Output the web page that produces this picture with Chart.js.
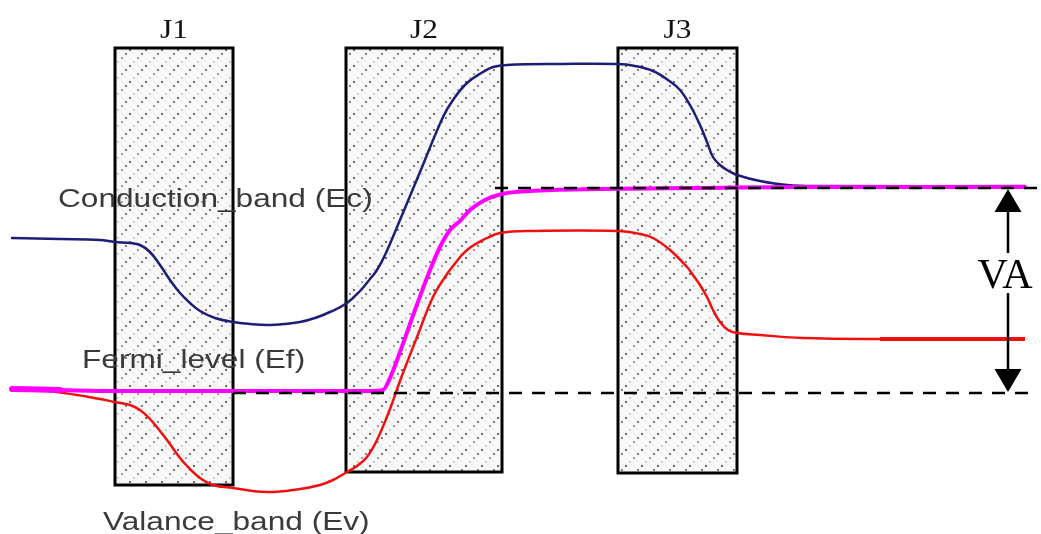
<!DOCTYPE html>
<html>
<head>
<meta charset="utf-8">
<script src="https://cdn.jsdelivr.net/npm/chart.js@4.4.1/dist/chart.umd.min.js"></script>
<style>
html,body{margin:0;padding:0;background:#fff;}
canvas{display:block;}
</style>
</head>
<body>
<canvas id="c" width="1041" height="534"></canvas>
<script>
// ---- Data (position in arbitrary units, energy in arbitrary units; Ef(left) = 0) ----
const condX = [1.2, 6, 10, 11.5, 13, 14, 15, 16, 17, 18, 19, 20, 21.5, 23.3, 25, 26.7, 28.5, 30, 31.5, 33, 34.7, 36, 37, 37.7, 38.5, 40, 42, 44.3, 45.3, 46.7, 48.3, 49.3, 50.7, 56, 61.8, 63.5, 65.3, 66.8, 68, 69, 70, 70.7, 71.3, 72, 72.7, 73.7, 76, 78.7, 82, 102.5];
const condE = [1.55, 1.54, 1.53, 1.51, 1.50, 1.48, 1.41, 1.28, 1.13, 1.00, 0.90, 0.82, 0.75, 0.71, 0.69, 0.68, 0.69, 0.71, 0.75, 0.81, 0.90, 1.02, 1.14, 1.23, 1.38, 1.73, 2.21, 2.76, 2.93, 3.10, 3.21, 3.26, 3.28, 3.29, 3.29, 3.27, 3.22, 3.13, 3.03, 2.88, 2.68, 2.51, 2.36, 2.28, 2.23, 2.18, 2.12, 2.08, 2.07, 2.07];

const fermiX = [1.2, 6, 11.5, 23.3, 30, 37, 38.3, 39, 40, 41.5, 43, 44, 45, 46, 47, 48.5, 50.2, 53, 60, 70, 80, 102.5];
const fermiE = [0.04, 0.03, 0.02, 0.02, 0.02, 0.02, 0.03, 0.15, 0.41, 0.83, 1.23, 1.46, 1.63, 1.72, 1.83, 1.93, 1.99, 2.02, 2.04, 2.05, 2.06, 2.06];

const valX = [1.2, 4, 7.7, 10, 11.5, 13, 14, 15, 16, 16.7, 17.7, 18.7, 20, 21.3, 23.3, 26.7, 30, 32, 33.3, 34.7, 35.7, 36.7, 37.7, 39, 40, 41.7, 43.3, 44.5, 45.3, 46.7, 48.7, 50, 53, 61.8, 64, 65.3, 67, 68.7, 69.3, 70, 70.7, 71.3, 72, 72.8, 73.7, 76, 80.3, 88, 102.5];
const valE = [0.04, 0.03, -0.02, -0.06, -0.09, -0.12, -0.17, -0.26, -0.38, -0.47, -0.61, -0.73, -0.85, -0.92, -0.95, -0.99, -0.96, -0.92, -0.87, -0.79, -0.73, -0.64, -0.47, -0.16, 0.12, 0.56, 0.96, 1.16, 1.27, 1.43, 1.55, 1.60, 1.62, 1.62, 1.59, 1.55, 1.43, 1.26, 1.18, 1.08, 0.96, 0.83, 0.71, 0.63, 0.60, 0.58, 0.55, 0.54, 0.54];

const junctionLabels = ['J1', 'J2', 'J3'];
const junctionStart = [11.5, 34.6, 61.8];
const junctionEnd = [23.3, 50.2, 73.7];
const junctionBottom = [-0.92, -0.79, -0.80];
const junctionTop = [3.45, 3.45, 3.45];

const lowerRefX = [23.3, 103.4];
const lowerRefE = [0, 0];
const upperRefX = [49.5, 104.1];
const upperRefE = [2.05, 2.05];

const vaLabel = 'VA';
const vaX = 100.8;
const vaFrom = 0;
const vaTo = 2.05;

const bandLabels = ['Conduction_band (Ec)', 'Fermi_level (Ef)', 'Valance_band (Ev)'];

// ---- layout / style (kept separate from the data) ----
const bandLabelPos = [[5.8, 1.86], [8.2, 0.25], [10.3, -1.37]];
const junctionLabelE = 3.55;
const vaLabelPos = [100.5, 1.05];

function pts(xs, ys) { return xs.map((x, i) => ({x: x, y: ys[i]})); }

// dotted hatch pattern
function makePattern(ctx) {
  const S = 16;
  const t = document.createElement('canvas');
  t.width = S; t.height = S;
  const g = t.getContext('2d');
  g.fillStyle = '#fafafa';
  g.fillRect(0, 0, S, S);
  function dot(x, y, r, c) {
    for (const dx of [-S, 0, S]) for (const dy of [-S, 0, S]) {
      g.fillStyle = c; g.beginPath(); g.arc(x + dx, y + dy, r, 0, Math.PI * 2); g.fill();
    }
  }
  for (let k = 0; k < 2; k++) {
    for (let s = 0; s < S; s += 2.67) {
      dot(s + k * 8, s, 0.55, '#cbcbcb');
    }
  }
  dot(2, 2, 1.0, '#3c3c3c');
  dot(10, 10, 0.9, '#767676');
  dot(14, 6, 0.95, '#505050');
  dot(6, 14, 0.8, '#969696');
  return ctx.createPattern(t, 'repeat');
}

function stretchedText(ctx, text, px, py, sx) {
  ctx.save();
  ctx.translate(px, py);
  ctx.scale(sx, 1);
  ctx.fillText(text, 0, 0);
  ctx.restore();
}

const decor = {
  id: 'decor',
  beforeDatasetsDraw(chart) {
    const {ctx, scales: {x, y}} = chart;
    const pat = makePattern(ctx);
    ctx.save();
    for (let i = 0; i < junctionLabels.length; i++) {
      const x0 = x.getPixelForValue(junctionStart[i]);
      const x1 = x.getPixelForValue(junctionEnd[i]);
      const y0 = y.getPixelForValue(junctionTop[i]);
      const y1 = y.getPixelForValue(junctionBottom[i]);
      ctx.fillStyle = pat;
      ctx.fillRect(x0, y0, x1 - x0, y1 - y0);
      ctx.lineWidth = 3;
      ctx.strokeStyle = '#000';
      ctx.strokeRect(x0, y0, x1 - x0, y1 - y0);
      ctx.fillStyle = '#111';
      ctx.font = '28px "Liberation Serif", "Times New Roman", serif';
      ctx.textAlign = 'center';
      ctx.textBaseline = 'alphabetic';
      stretchedText(ctx, junctionLabels[i], (x0 + x1) / 2, y.getPixelForValue(junctionLabelE), 1.12);
    }
    ctx.restore();
  },
  afterDatasetsDraw(chart) {
    const {ctx, scales: {x, y}} = chart;
    ctx.save();
    ctx.fillStyle = '#3a3a3a';
    ctx.font = '25px "Liberation Sans", Arial, sans-serif';
    ctx.textAlign = 'left';
    ctx.textBaseline = 'alphabetic';
    bandLabels.forEach((t, i) => {
      stretchedText(ctx, t, x.getPixelForValue(bandLabelPos[i][0]), y.getPixelForValue(bandLabelPos[i][1]), 1.265);
    });
    const ax = x.getPixelForValue(vaX);
    const yTop = y.getPixelForValue(vaTo);
    const yBot = y.getPixelForValue(vaFrom);
    const hw = 13.5, hh = 22;
    ctx.strokeStyle = '#000';
    ctx.fillStyle = '#000';
    ctx.lineWidth = 2.5;
    ctx.beginPath();
    ctx.moveTo(ax, yTop + hh); ctx.lineTo(ax, yTop + 65);
    ctx.moveTo(ax, yBot - 100); ctx.lineTo(ax, yBot - hh);
    ctx.stroke();
    ctx.beginPath();
    ctx.moveTo(ax, yTop + 1); ctx.lineTo(ax - hw, yTop + hh + 2); ctx.lineTo(ax + hw, yTop + hh + 2); ctx.closePath();
    ctx.fill();
    ctx.beginPath();
    ctx.moveTo(ax, yBot - 1); ctx.lineTo(ax - hw, yBot - hh - 2); ctx.lineTo(ax + hw, yBot - hh - 2); ctx.closePath();
    ctx.fill();
    ctx.font = '42px "Liberation Serif", "Times New Roman", serif';
    ctx.textAlign = 'center';
    ctx.fillStyle = '#000';
    ctx.fillText(vaLabel, x.getPixelForValue(vaLabelPos[0]), y.getPixelForValue(vaLabelPos[1]));
    ctx.restore();
  }
};

new Chart(document.getElementById('c'), {
  type: 'line',
  data: {
    datasets: [
      {label: 'lower reference', data: pts(lowerRefX, lowerRefE), borderColor: '#000', borderWidth: 2.5, borderDash: [13, 10], pointRadius: 0, order: 0},
      {label: 'upper reference', data: pts(upperRefX, upperRefE), borderColor: '#000', borderWidth: 2.5, borderDash: [13, 10], pointRadius: 0, order: 0},
      {label: 'Fermi_level (Ef)', data: pts(fermiX, fermiE), borderColor: '#ff00ff', borderWidth: 4, pointRadius: 0, cubicInterpolationMode: 'monotone', borderCapStyle: 'round', order: 1,
        segment: {borderWidth: c => c.p0.parsed.x < 5 ? 6 : 4}},
      {label: 'Valance_band (Ev)', data: pts(valX, valE), borderColor: '#f01010', borderWidth: 2.5, pointRadius: 0, tension: 0.4, order: 2,
        segment: {borderWidth: c => c.p0.parsed.x >= 88 ? 4 : 2.5}},
      {label: 'Conduction_band (Ec)', data: pts(condX, condE), borderColor: '#1e1e78', borderWidth: 2.5, pointRadius: 0, tension: 0.4, borderCapStyle: 'round', order: 3}
    ]
  },
  options: {
    responsive: false,
    animation: false,
    devicePixelRatio: 1,
    layout: {padding: 0},
    plugins: {legend: {display: false}, tooltip: {enabled: false}},
    scales: {
      x: {type: 'linear', min: 0, max: 104.1, display: false},
      y: {type: 'linear', min: -1.41, max: 3.93, display: false}
    }
  },
  plugins: [decor]
});
</script>
</body>
</html>
